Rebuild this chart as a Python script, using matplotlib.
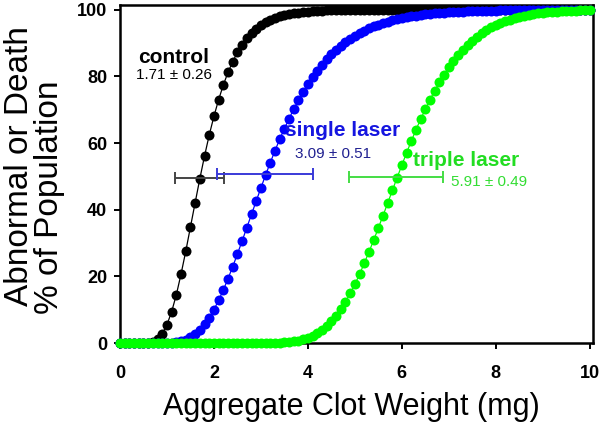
import matplotlib
matplotlib.use("Agg")
import matplotlib.pyplot as plt

plt.rcParams['font.family'] = ['Liberation Sans', 'DejaVu Sans']

# Dose grid (mg)
clot_weight = [0.0, 0.1, 0.2, 0.3, 0.4, 0.5, 0.6, 0.7, 0.8, 0.9,
               1.0, 1.1, 1.2, 1.3, 1.4, 1.5, 1.6, 1.7, 1.8, 1.9,
               2.0, 2.1, 2.2, 2.3, 2.4, 2.5, 2.6, 2.7, 2.8, 2.9,
               3.0, 3.1, 3.2, 3.3, 3.4, 3.5, 3.6, 3.7, 3.8, 3.9,
               4.0, 4.1, 4.2, 4.3, 4.4, 4.5, 4.6, 4.7, 4.8, 4.9,
               5.0, 5.1, 5.2, 5.3, 5.4, 5.5, 5.6, 5.7, 5.8, 5.9,
               6.0, 6.1, 6.2, 6.3, 6.4, 6.5, 6.6, 6.7, 6.8, 6.9,
               7.0, 7.1, 7.2, 7.3, 7.4, 7.5, 7.6, 7.7, 7.8, 7.9,
               8.0, 8.1, 8.2, 8.3, 8.4, 8.5, 8.6, 8.7, 8.8, 8.9,
               9.0, 9.1, 9.2, 9.3, 9.4, 9.5, 9.6, 9.7, 9.8, 9.9,
               10.0]

control = [0.0, 0.0, 0.0, 0.0, 0.0, 0.0, 0.1, 0.4, 1.2, 2.8,
           5.5, 9.4, 14.5, 20.7, 27.5, 34.8, 42.1, 49.3, 56.1, 62.4,
           68.0, 73.0, 77.4, 81.2, 84.4, 87.2, 89.5, 91.4, 93.0, 94.3,
           95.3, 96.2, 96.9, 97.5, 98.0, 98.4, 98.7, 98.9, 99.1, 99.3,
           99.4, 99.5, 99.6, 99.7, 99.8, 99.8, 99.8, 99.9, 99.9, 99.9,
           99.9, 99.9, 99.9, 99.9, 99.9, 99.9, 99.9, 99.9, 99.9, 99.9,
           100.0, 100.0, 100.0, 100.0, 100.0, 100.0, 100.0, 100.0, 100.0, 100.0,
           100.0, 100.0, 100.0, 100.0, 100.0, 100.0, 100.0, 100.0, 100.0, 100.0,
           100.0, 100.0, 100.0, 100.0, 100.0, 100.0, 100.0, 100.0, 100.0, 100.0,
           100.0, 100.0, 100.0, 100.0, 100.0, 100.0, 100.0, 100.0, 100.0, 100.0,
           100.0]

single_laser = [0.0, 0.0, 0.0, 0.0, 0.0, 0.0, 0.0, 0.0, 0.0, 0.0,
                0.0, 0.1, 0.3, 0.5, 1.0, 1.7, 2.6, 3.9, 5.6, 7.6,
                10.0, 12.8, 15.9, 19.3, 22.9, 26.7, 30.6, 34.6, 38.6, 42.6,
                46.5, 50.4, 54.1, 57.7, 61.1, 64.3, 67.3, 70.2, 72.9, 75.3,
                77.6, 79.7, 81.7, 83.4, 85.1, 86.6, 87.9, 89.1, 90.2, 91.3,
                92.2, 93.0, 93.7, 94.4, 95.0, 95.5, 96.0, 96.4, 96.8, 97.1,
                97.5, 97.7, 98.0, 98.2, 98.4, 98.6, 98.7, 98.9, 99.0, 99.1,
                99.2, 99.3, 99.4, 99.4, 99.5, 99.5, 99.6, 99.6, 99.7, 99.7,
                99.7, 99.8, 99.8, 99.8, 99.8, 99.9, 99.9, 99.9, 99.9, 99.9,
                99.9, 99.9, 99.9, 99.9, 99.9, 100.0, 100.0, 100.0, 100.0, 100.0,
                100.0]

triple_laser = [0.0, 0.0, 0.0, 0.0, 0.0, 0.0, 0.0, 0.0, 0.0, 0.0,
                0.0, 0.0, 0.0, 0.0, 0.0, 0.0, 0.0, 0.0, 0.0, 0.0,
                0.0, 0.0, 0.0, 0.0, 0.0, 0.0, 0.0, 0.0, 0.0, 0.0,
                0.0, 0.0, 0.0, 0.1, 0.1, 0.2, 0.3, 0.5, 0.7, 1.1,
                1.5, 2.1, 2.9, 3.9, 5.1, 6.5, 8.2, 10.2, 12.4, 14.9,
                17.6, 20.6, 23.9, 27.3, 30.8, 34.5, 38.2, 42.0, 45.8, 49.6,
                53.3, 57.0, 60.5, 63.9, 67.1, 70.1, 73.0, 75.7, 78.2, 80.5,
                82.7, 84.6, 86.4, 88.0, 89.4, 90.7, 91.9, 92.9, 93.8, 94.7,
                95.4, 96.0, 96.6, 97.0, 97.5, 97.8, 98.1, 98.4, 98.7, 98.9,
                99.0, 99.2, 99.3, 99.4, 99.5, 99.6, 99.7, 99.7, 99.8, 99.8,
                99.8]

# Error bars (center, half-width, y level)
err_center = [1.69, 3.09, 5.88]
err_half = [0.52, 1.02, 1.00]
err_y = [49.5, 50.6, 49.7]

group_names = ["control", "single laser", "triple laser"]
group_stats = ["1.71 \u00b1 0.26", "3.09 \u00b1 0.51", "5.91 \u00b1 0.49"]

x_ticks = [0, 2, 4, 6, 8, 10]
y_ticks = [0, 20, 40, 60, 80, 100]

dot_colors = ["#000000", "#0000ff", "#00ff00"]
err_colors = ["#444444", "#3a3ad8", "#44dd44"]
name_colors = ["#000000", "#1515e0", "#22dd22"]
stat_colors = ["#000000", "#202090", "#33dd33"]

fig = plt.figure(figsize=(6.0, 4.24), dpi=100)
ax = fig.add_axes([0.1992, 0.191, 0.7883, 0.798])

for ys, c in zip([control, single_laser, triple_laser], dot_colors):
    ax.plot(clot_weight, ys, color=c, lw=0.9, marker='o', ms=7.2,
            mec=c, mew=0, mfc=c, clip_on=False, zorder=3)

for xc, xe, yc, ec in zip(err_center, err_half, err_y, err_colors):
    ax.errorbar([xc], [yc], xerr=[xe], fmt='none', ecolor=ec,
                elinewidth=1.4, capsize=4.5, capthick=1.4, zorder=4)

# Labels
name_pos = [(1.15, 84.0), (4.74, 62.0), (7.38, 53.2)]
stat_pos = [(1.16, 79.3), (4.54, 55.4), (7.85, 47.2)]
for (nx, ny), name, nc in zip(name_pos, group_names, name_colors):
    ax.text(nx, ny, name, ha='center', va='baseline', fontsize=15,
            fontweight='bold', color=nc, zorder=5)
for (sx, sy), st, sc in zip(stat_pos, group_stats, stat_colors):
    ax.text(sx, sy, st, ha='center', va='baseline', fontsize=11,
            color=sc, zorder=5)

ax.set_xlim(-0.01, 10.06)
ax.set_ylim(0, 101.5)
ax.set_xticks(x_ticks)
ax.set_yticks(y_ticks)
ax.set_xticklabels([str(t) for t in x_ticks], fontsize=13, fontweight='bold')
ax.set_yticklabels([str(t) for t in y_ticks], fontsize=13, fontweight='bold')
ax.tick_params(axis='x', direction='out', length=4, width=1.4, pad=12)
ax.tick_params(axis='y', direction='out', length=4, width=1.4, pad=5)
for sp in ax.spines.values():
    sp.set_linewidth(1.8)

fig.text(0.586, 0.040, "Aggregate Clot Weight (mg)", ha='center', va='center',
         fontsize=22)
fig.text(0.0333, 0.6085, "Abnormal or Death", ha='center', va='center',
         rotation=90, fontsize=24)
fig.text(0.0833, 0.535, "% of Population", ha='center', va='center',
         rotation=90, fontsize=24)

fig.savefig("out.png", dpi=100)
